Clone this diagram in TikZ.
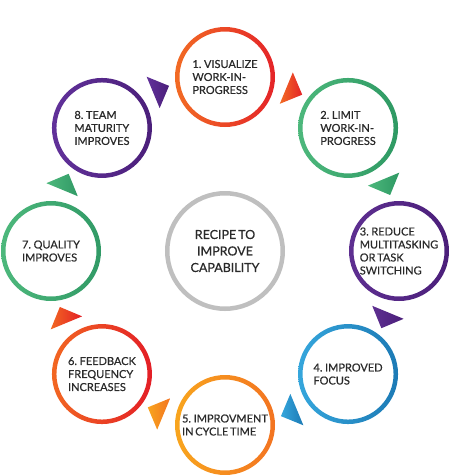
\documentclass[tikz,border=0pt]{standalone}
\usepackage{fontspec}
\setmainfont{Lato}[WordSpace=0.6, FakeBold=0.6]
\usetikzlibrary{calc}
\definecolor{txt}{HTML}{2A2A2A}
\definecolor{c1a}{HTML}{F26B24}\definecolor{c1b}{HTML}{E42428}
\definecolor{c2a}{HTML}{4DB87C}\definecolor{c2b}{HTML}{2E9963}
\definecolor{c3a}{HTML}{5E2F91}\definecolor{c3b}{HTML}{4B1F7A}
\definecolor{c4a}{HTML}{35A6DC}\definecolor{c4b}{HTML}{1C7AB5}
\definecolor{c5a}{HTML}{F8A51E}\definecolor{c5b}{HTML}{F37421}
\definecolor{c6a}{HTML}{F26722}\definecolor{c6b}{HTML}{E31E26}
\definecolor{c7a}{HTML}{4DB87C}\definecolor{c7b}{HTML}{319A66}
\definecolor{c8a}{HTML}{61319A}\definecolor{c8b}{HTML}{4B1F7A}
\definecolor{ringgray}{HTML}{BFBFBF}
\begin{document}
\begin{tikzpicture}[x=1pt,y=1pt,
  ring/.style={circle, minimum size=100pt, inner sep=0pt, text=txt, align=left,
    font=\fontsize{11}{13}\selectfont},
  hub/.style={circle, draw=ringgray, line width=4.5pt, minimum size=115.5pt, inner sep=0pt,
    text=txt, align=center, font=\fontsize{12.5}{16.5}\selectfont}]
\useasboundingbox (0,0) rectangle (450,-475);
\coordinate (C) at (225,-251);
\node[hub] (hub) at (C) {RECIPE TO\\IMPROVE\\CAPABILITY};
\foreach \i/\ang/\ca/\cb/\txt in {
  1/90/c1a/c1b/{1. VISUALIZE\\WORK-IN-\\PROGRESS},
  2/45/c2a/c2b/{2. LIMIT\\WORK-IN-\\PROGRESS},
  3/0/c3a/c3b/{3. REDUCE\\MULTITASKING\\OR TASK\\SWITCHING},
  4/-45/c4a/c4b/{4. IMPROVED\\FOCUS},
  5/-90/c5a/c5b/{5. IMPROVMENT\\IN CYCLE TIME},
  6/-135/c6a/c6b/{6. FEEDBACK\\FREQUENCY\\INCREASES},
  7/180/c7a/c7b/{7. QUALITY\\IMPROVES},
  8/135/c8a/c8b/{8. TEAM\\MATURITY\\IMPROVES}}{
  \node[ring, path picture={\shade[left color=\ca, right color=\cb, even odd rule]
      (path picture bounding box.center) circle (50pt) circle (45.5pt);}]
    (s\i) at ($(C)+(\ang:174)$) {\txt};
}
\foreach \ang/\ca/\cb in {67.5/c1a/c1b, 22.5/c2a/c2b, -22.5/c3a/c3b, -67.5/c4a/c4b,
  -112.5/c5a/c5b, -157.5/c6a/c6b, 157.5/c7a/c7b, 112.5/c8a/c8b}{
  \begin{scope}[shift={($(C)+(\ang:174)$)}, rotate=\ang-90]
    \shade[left color=\ca, right color=\cb] (11.5,0) -- (-5.7,17) -- (-5.7,-17) -- cycle;
  \end{scope}
}
\end{tikzpicture}
\end{document}
